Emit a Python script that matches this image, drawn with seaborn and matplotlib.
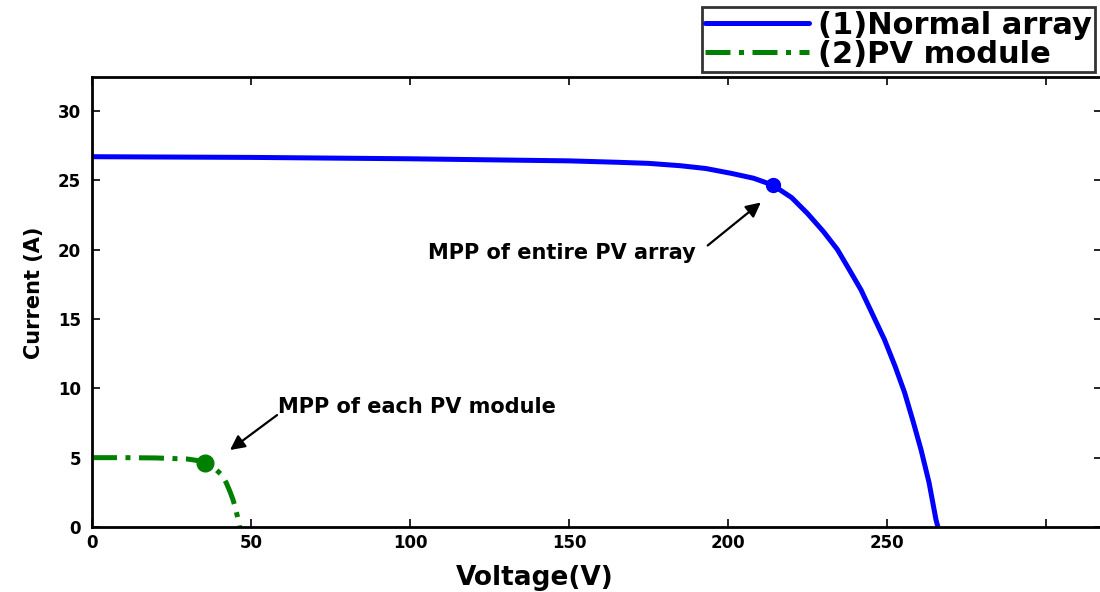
import pandas as pd
import matplotlib.pyplot as plt
import seaborn as sns

# I-V curve of the normal array
array_v = [0, 50, 100, 150, 165, 175, 185, 193, 201, 208, 214, 220, 225, 230, 234.4, 238, 241.8, 245.5, 249.2, 252.5, 255.5, 258.2, 260.7, 263.2, 265.4, 266]
array_i = [26.7, 26.65, 26.55, 26.4, 26.3, 26.22, 26.05, 25.85, 25.5, 25.15, 24.66, 23.75, 22.6, 21.3, 20.0, 18.6, 17.1, 15.3, 13.5, 11.6, 9.7, 7.6, 5.55, 3.2, 0.5, 0]

# I-V curve of one PV module
module_v = [0, 10, 20, 30, 33, 35.6, 38.5, 40.8, 42.2, 43.4, 44.3, 45, 45.8, 46.4]
module_i = [5.0, 5.0, 4.98, 4.9, 4.8, 4.6, 4.25, 3.75, 3.2, 2.55, 2.0, 1.46, 0.7, 0]

# maximum power points
mpp_array = (214, 24.66)
mpp_module = (35.6, 4.6)

x_ticks = [0, 50, 100, 150, 200, 250, 300]
x_labels = ["0", "50", "100", "150", "200", "250", ""]
y_ticks = [0, 5, 10, 15, 20, 25, 30]

sns.set_style("ticks")
plt.rcParams['font.family'] = ['DejaVu Sans']
plt.rcParams['font.weight'] = 'bold'
plt.rcParams['xtick.direction'] = 'in'
plt.rcParams['ytick.direction'] = 'in'
for k in ['text.color', 'axes.labelcolor', 'xtick.color', 'ytick.color', 'axes.edgecolor']:
    plt.rcParams[k] = 'black'

df_array = pd.DataFrame({'Voltage': array_v, 'Current': array_i})
df_module = pd.DataFrame({'Voltage': module_v, 'Current': module_i})

fig = plt.figure(figsize=(11, 5.92), dpi=100)
ax = fig.add_axes([0.0836, 0.1098, 0.918, 0.7602])

sns.lineplot(data=df_array, x='Voltage', y='Current', ax=ax, color='#0000ff',
             linewidth=3.6, sort=False, label='(1)Normal array')
sns.lineplot(data=df_module, x='Voltage', y='Current', ax=ax, color='#008000',
             linewidth=3.6, sort=False, label='(2)PV module')
ax.lines[1].set_dashes((5, 1.7, 1, 1.7))

ax.plot(*mpp_array, 'o', color='#0000ff', markersize=10)
ax.plot(*mpp_module, 'o', color='#008000', markersize=12)

ax.set_xlim(0, 317.5)
ax.set_ylim(0, 32.45)
ax.set_xticks(x_ticks)
ax.set_xticklabels(x_labels)
ax.set_yticks(y_ticks)
ax.tick_params(top=True, right=True, labelsize=12, length=6, width=1.2)
ax.tick_params(axis='y', pad=8)
ax.tick_params(axis='x', pad=5)
for lbl in ax.get_xticklabels() + ax.get_yticklabels():
    lbl.set_fontweight('bold')
for s in ax.spines.values():
    s.set_linewidth(2)
    s.set_visible(True)

ax.set_xlabel("Voltage(V)", fontsize=19, fontweight='bold')
ax.set_ylabel("Current (A)", fontsize=15, fontweight='bold')
ax.xaxis.set_label_coords(0.4386, -0.085)
ax.yaxis.set_label_coords(-0.047, 0.52)

# annotations: text and arrows
ax.text(105.8, 19.75, "MPP of entire PV array", fontsize=15, fontweight='bold',
        ha='left', va='center')
ax.annotate("", xy=(210.3, 23.4), xytext=(193.6, 20.3),
            arrowprops=dict(arrowstyle='-|>', color='black', lw=1.6, mutation_scale=22,
                            shrinkA=0, shrinkB=0))
ax.text(58.5, 8.65, "MPP of each PV module", fontsize=15, fontweight='bold',
        ha='left', va='center')
ax.annotate("", xy=(43.4, 5.55), xytext=(58.2, 8.07),
            arrowprops=dict(arrowstyle='-|>', color='black', lw=1.6, mutation_scale=22,
                            shrinkA=0, shrinkB=0))

leg = ax.legend(loc='lower right', bbox_to_anchor=(0.993, 1.012), fontsize=22,
                frameon=True, fancybox=False, edgecolor='black', handlelength=3.4,
                borderpad=0.1, labelspacing=0.0, handletextpad=0.3, borderaxespad=0)
leg.get_frame().set_linewidth(2)
for t in leg.get_texts():
    t.set_fontweight('bold')

plt.savefig('out.png', dpi=100)
